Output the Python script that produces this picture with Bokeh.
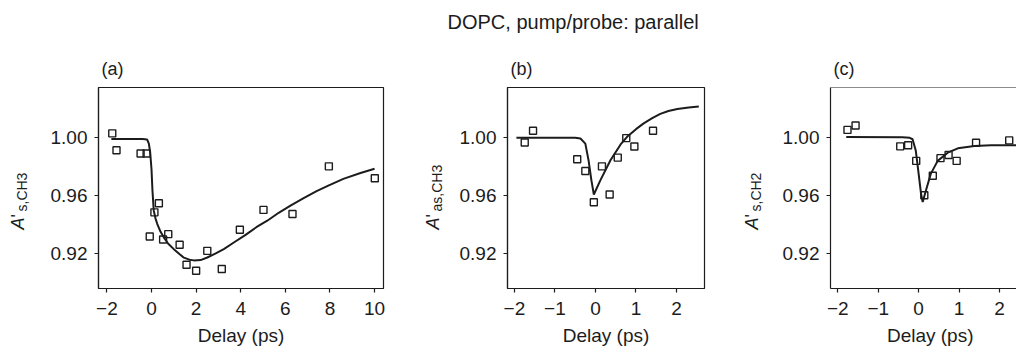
import math
from bokeh.plotting import figure
from bokeh.layouts import row
from bokeh.models import Label, FixedTicker, Range1d, Span, PrintfTickFormatter, GridBox
from bokeh.embed import file_html
from bokeh.resources import INLINE

FONT = "Liberation Sans"
INK = "#1c1c1c"

# ---------------- data ----------------
title_text = "DOPC, pump/probe: parallel"
panel_letters = ["(a)", "(b)", "(c)"]
x_axis_label = "Delay (ps)"
y_subscripts = ["s,CH3", "as,CH3", "s,CH2"]

# panel (a)  A'_{s,CH3}
a_pts_x = [-1.76, -1.57, -0.49, -0.22, -0.08, 0.13, 0.33, 0.52, 0.75, 1.26, 1.57, 2.00, 2.50, 3.15, 3.96, 5.02, 6.32, 7.95, 10.01]
a_pts_y = [1.0031, 0.9914, 0.9891, 0.9891, 0.9316, 0.9483, 0.9546, 0.9295, 0.9332, 0.9258, 0.9120, 0.9078, 0.9216, 0.9090, 0.9362, 0.9500, 0.9472, 0.9802, 0.9720]
a_fit_x = [-1.8, -0.4, -0.2, -0.12, -0.06, 0.0, 0.04, 0.1, 0.18, 0.26, 0.4, 0.55, 0.75, 1.0, 1.25, 1.45, 1.7, 1.9, 2.2, 2.5, 2.9, 3.24, 3.69, 4.2, 4.7, 5.19, 5.7, 6.23, 6.8, 7.4, 7.95, 8.6, 9.37, 10.0]
a_fit_y = [0.9991, 0.9991, 0.9989, 0.9960, 0.9900, 0.9780, 0.9640, 0.9495, 0.9440, 0.9402, 0.9350, 0.9310, 0.9265, 0.9228, 0.9195, 0.9169, 0.9155, 0.9150, 0.9152, 0.9170, 0.9200, 0.9228, 0.9274, 0.9325, 0.9380, 0.9425, 0.9480, 0.9530, 0.9580, 0.9630, 0.9670, 0.9715, 0.9756, 0.9786]

# panel (b)  A'_{as,CH3}
b_pts_x = [-1.745, -1.54, -0.45, -0.25, -0.04, 0.16, 0.35, 0.55, 0.76, 0.96, 1.42]
b_pts_y = [0.9968, 1.0049, 0.9851, 0.9770, 0.9553, 0.9802, 0.9607, 0.9863, 0.9998, 0.9940, 1.0049]
b_fit_x = [-1.95, -0.5, -0.37, -0.25, -0.17, -0.1, -0.04, 0.12, 0.37, 0.62, 0.78, 1.0, 1.19, 1.4, 1.6, 1.8, 2.02, 2.3, 2.55]
b_fit_y = [1.0000, 1.0000, 0.9995, 0.9960, 0.9844, 0.9705, 0.9607, 0.9705, 0.9844, 0.9954, 1.0007, 1.0060, 1.0100, 1.0136, 1.0166, 1.0186, 1.0200, 1.0210, 1.0217]

# panel (c)  A'_{s,CH2}
c_pts_x = [-1.76, -1.56, -0.455, -0.26, -0.06, 0.14, 0.35, 0.54, 0.74, 0.94, 1.42, 2.24]
c_pts_y = [1.0055, 1.0085, 0.9941, 0.9948, 0.9840, 0.9602, 0.9737, 0.9859, 0.9881, 0.9840, 0.9966, 0.9982]
c_fit_x = [-1.79, -0.4, -0.22, -0.15, -0.07, 0.0, 0.06, 0.1, 0.18, 0.30, 0.47, 0.72, 0.97, 1.38, 1.79, 2.2, 2.55]
c_fit_y = [1.0005, 1.0004, 1.0000, 0.9990, 0.9910, 0.9750, 0.9610, 0.9555, 0.9634, 0.9750, 0.9840, 0.9897, 0.9927, 0.9943, 0.9948, 0.9948, 0.9948]

x_ticks_a = [-2, 0, 2, 4, 6, 8, 10]
x_ticks_bc = [-2, -1, 0, 1, 2]
y_ticks = [0.92, 0.96, 1.00]

# ---------------- layout constants ----------------
YR = (0.8955, 1.0349)
XA = (-2.377, 10.40)
XB = (-2.17, 2.69)
XC = (-2.18, 2.42)
W_TOTAL, H = 1016, 346
MB_TOP, MB_BOT = 87, 58
BASE_K = 0.32   # empirical baseline correction (fraction of font size)


def minus(t):
    return str(t).replace("-", "\u2212")


def make_fig(width, xr, mbl, mbr, xticks, outline=True):
    p = figure(width=width, height=H, x_range=Range1d(*xr), y_range=Range1d(*YR),
               output_backend="svg", toolbar_location=None, title=None,
               min_border_left=mbl, min_border_right=mbr,
               min_border_top=MB_TOP, min_border_bottom=MB_BOT)
    p.grid.visible = False
    p.background_fill_color = "white"
    p.border_fill_color = "white"
    if outline:
        p.outline_line_color = INK
        p.outline_line_width = 1.2
        p.outline_line_alpha = 1.0
    else:
        p.outline_line_color = None
    for ax in p.axis:
        ax.axis_line_color = INK
        ax.axis_line_width = 1.2
        ax.major_tick_line_color = INK
        ax.major_tick_line_width = 1.2
        ax.major_tick_in = 0
        ax.major_tick_out = 4
        ax.minor_tick_line_color = None
        ax.major_label_text_font = FONT
        ax.major_label_text_font_size = "19px"
        ax.major_label_text_color = INK
    p.xaxis.ticker = FixedTicker(ticks=xticks)
    p.xaxis.major_label_overrides = {t: minus(t) for t in xticks}
    p.xaxis.major_label_standoff = 9
    p.yaxis.ticker = FixedTicker(ticks=y_ticks)
    p.yaxis.formatter = PrintfTickFormatter(format="%.2f")
    p.yaxis.major_label_standoff = 7
    return p


def add_data(p, px, py, fx, fy):
    p.line(fx, fy, line_color=INK, line_width=2)
    p.scatter(px, py, marker="square", size=7, fill_color=None,
              line_color=INK, line_width=1.4)


pa = make_fig(417, XA, 98, 34, x_ticks_a)
add_data(pa, a_pts_x, a_pts_y, a_fit_x, a_fit_y)

pb = make_fig(323, XB, 90, 36, x_ticks_bc)
add_data(pb, b_pts_x, b_pts_y, b_fit_x, b_fit_y)

pc = make_fig(276, XC, 90, 0, x_ticks_bc, outline=False)
add_data(pc, c_pts_x, c_pts_y, c_fit_x, c_fit_y)
pc.add_layout(Span(location=YR[1], dimension="width", line_color=INK, line_width=1.2))

panels = row(pa, pb, pc, spacing=0)

# ---------------- text overlay (transparent, covers the whole page) ----------------
ov = figure(width=W_TOTAL, height=H, x_range=Range1d(0, 1), y_range=Range1d(0, 1),
            output_backend="svg", toolbar_location=None, title=None,
            x_axis_location=None, y_axis_location=None, min_border=0)
ov.grid.visible = False
ov.outline_line_color = None
ov.background_fill_color = None
ov.border_fill_color = None


def tl(text, px, py, size, align="left", style="normal", rotated=False):
    # px, py: wanted baseline position, pixels from the page's top-left corner
    k = BASE_K * size
    if rotated:
        px -= k
    else:
        py -= k
    ov.add_layout(Label(x=px, y=H - py, x_units="screen", y_units="screen", text=text,
                        text_font=FONT, text_font_size=f"{size}px", text_font_style=style,
                        text_color=INK, angle=(math.pi / 2 if rotated else 0.0),
                        text_align=align, text_baseline="alphabetic"))


tl(title_text, 447, 28, 20)

frame_lefts = [98, 507, 830]
xlabel_centers = [240.5, 605.5, 929.7]
ylabel_baselines = [23, 438, 757]
for i in range(3):
    tl(panel_letters[i], frame_lefts[i] + 3, 74, 18)
    tl(x_axis_label, xlabel_centers[i], 341, 19, align="center")
    bx = ylabel_baselines[i]
    tl("A", bx, 229, 18, style="italic", rotated=True)
    tl("'", bx, 217, 18, rotated=True)
    tl(y_subscripts[i], bx + 3, 211, 14, rotated=True)

grid = GridBox(children=[(panels, 0, 0), (ov, 0, 0)], spacing=0)
open("out.html", "w").write(file_html(grid, INLINE))
